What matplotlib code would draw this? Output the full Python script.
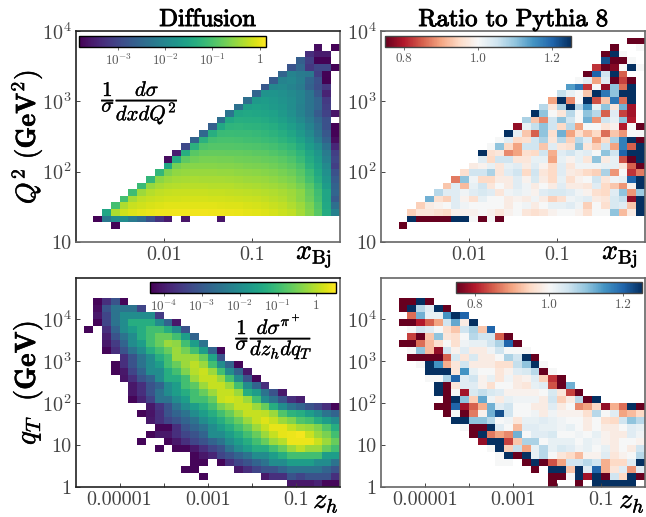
import numpy as np
import matplotlib
matplotlib.use('Agg')
import matplotlib.pyplot as plt
import matplotlib.patheffects as pe
from matplotlib.colors import LogNorm, Normalize

plt.rcParams['font.family'] = ['cmr10', 'DejaVu Serif']
plt.rcParams['mathtext.fontset'] = 'cm'
plt.rcParams['axes.formatter.use_mathtext'] = True
plt.rcParams['axes.unicode_minus'] = False

n = np.nan

# Q2 vs x cross section, log10, rows listed from the bottom bin up
xsec_q2 = [
    [n]*30,
    [n]*30,
    [n]*4 + [-3.8],
    [n]*2 + [-3.8,-2.25,-1.95,-1.9,-2.2,-2.45,-2.85,-3.25,-3.55,n,-3.6,n,n,n,-3.6],
    [n]*3 + [-1.5,-.35,-.15,-.08,-.03,0,.03,.04,.05,.05,.05,.05,.04,.03,.02,0,-.02,-.05,-.08,-.12,-.18,-.25,-.4,-.6,-.9,-1.4,-2.1],
    [n]*4 + [-1.05,-.35,-.2,-.15,-.1,-.07,-.05,-.04,-.04,-.04,-.05,-.05,-.06,-.07,-.08,-.1,-.12,-.15,-.2,-.25,-.33,-.45,-.65,-.95,-1.45,-2.4],
    [n]*5 + [-1.05,-.4,-.25,-.2,-.16,-.14,-.13,-.12,-.12,-.12,-.13,-.14,-.15,-.16,-.18,-.2,-.23,-.27,-.32,-.42,-.55,-.75,-1.05,-1.5,-2.7],
    [n]*6 + [-1.1,-.45,-.3,-.25,-.22,-.2,-.2,-.2,-.2,-.21,-.22,-.23,-.24,-.26,-.28,-.3,-.33,-.38,-.45,-.55,-.8,-1.1,-1.5,-2.55],
    [n]*7 + [-1.15,-.5,-.38,-.32,-.3,-.29,-.29,-.29,-.3,-.3,-.31,-.33,-.35,-.37,-.4,-.43,-.48,-.55,-.68,-.9,-1.2,-1.65,-2.6],
    [n]*8 + [-1.2,-.55,-.45,-.4,-.38,-.37,-.38,-.38,-.39,-.4,-.42,-.44,-.46,-.48,-.52,-.58,-.65,-.8,-1.05,-1.35,-1.75,-2.7],
    [n]*9 + [-1.2,-.65,-.52,-.5,-.48,-.48,-.48,-.5,-.5,-.52,-.54,-.56,-.58,-.62,-.68,-.75,-.9,-1.15,-1.45,-1.85,-2.85],
    [n]*10 + [-1.45,-.7,-.6,-.58,-.58,-.58,-.6,-.6,-.62,-.64,-.66,-.68,-.72,-.78,-.86,-1.0,-1.3,-1.55,-1.95,-3.1],
    [n]*10 + [-3.7,-1.4,-.85,-.72,-.68,-.68,-.7,-.7,-.72,-.74,-.76,-.78,-.82,-.88,-.98,-1.15,-1.4,-1.65,-2.1,-3.0],
    [n]*11 + [-3.5,-1.35,-.9,-.82,-.8,-.8,-.82,-.82,-.84,-.86,-.88,-.94,-1.0,-1.1,-1.25,-1.5,-1.75,-2.2,-3.1],
    [n]*12 + [-2.95,-1.3,-.98,-.92,-.92,-.92,-.94,-.96,-.98,-1.0,-1.05,-1.12,-1.22,-1.4,-1.65,-1.9,-2.35,-3.4],
    [n]*13 + [-2.6,-1.3,-1.05,-1.02,-1.02,-1.04,-1.06,-1.08,-1.12,-1.18,-1.26,-1.38,-1.55,-1.8,-2.15,-2.6,-3.7],
    [n]*14 + [-2.5,-1.35,-1.15,-1.12,-1.14,-1.15,-1.18,-1.22,-1.28,-1.36,-1.5,-1.7,-1.95,-2.3,-2.75,-3.8],
    [n]*15 + [-2.65,-1.45,-1.25,-1.24,-1.26,-1.28,-1.32,-1.38,-1.48,-1.62,-1.8,-2.05,-2.4,-2.85,-3.8],
    [n]*16 + [-2.4,-1.45,-1.35,-1.36,-1.38,-1.42,-1.5,-1.6,-1.75,-1.95,-2.2,-2.5,-2.85],
    [n]*17 + [-2.3,-1.5,-1.45,-1.48,-1.52,-1.58,-1.7,-1.85,-2.05,-2.3,-2.7,-3.05,-3.6],
    [n]*18 + [-2.35,-1.6,-1.55,-1.6,-1.68,-1.75,-1.9,-2.1,-2.3,-2.55,-3.1],
    [n]*19 + [-2.4,-1.7,-1.65,-1.72,-1.8,-1.9,-2.05,-2.3,-2.55,-3.15],
    [n]*20 + [-2.55,-1.8,-1.78,-1.85,-1.95,-2.05,-2.3,-2.75,-3.45],
    [n]*21 + [-2.75,-2.0,-1.95,-2.05,-2.2,-2.6,-2.9,-3.2],
    [n]*22 + [-2.7,-2.05,-2.0,-2.15,-2.55,-2.85,-3.85],
    [n]*23 + [-2.55,-2.05,-2.2,-2.25,-3.1,-3.8],
    [n]*24 + [-2.8,-2.5,-3.2,-3.0,-3.0,-3.8],
    [n]*25 + [-2.65,-3.1,-3.8,-3.8],
    [n]*26 + [-3.3,-3.55,-3.55],
    [n]*27 + [-3.7,n,-3.8],
    [n]*30,
    [n]*30,
]

# ratio for the Q2 panel
ratio_q2 = [
    [n]*30,
    [n]*30,
    [n]*2 + [.75],
    [n]*3 + [1.25,.75,.75,.75,.75,1.25,1.25,1.0,.75,1.0,.75],
    [n]*3 + [.94,.97,.97,.96,.95,.99,.99,.99,1.0,.99,.97,.99,1.0,.97,.96,.97,.99,1.0,1.0,.99,.96,1.0,1.0,1.1,.92,.98,1.25],
    [n]*4 + [.94,.98,.99,1.0,1.03,1.01,1.0,1.0,1.0,1.0,.98,1.0,1.01,.98,1.0,1.02,1.02,1.03,1.01,.94,1.0,.96,1.04,1.03,.93,1.25],
    [n]*5 + [1.12,.96,.94,1.03,.99,.96,1.02,1.0,1.0,.98,.99,.98,1.01,.98,.94,.96,1.01,1.02,1.03,.98,.97,1.04,1.06,.78,1.25],
    [n]*6 + [1.07,1.03,1.03,1.01,1.03,1.04,1.03,.97,1.01,1.02,1.01,.99,1.03,1.04,1.04,1.03,1.01,.99,.96,.95,1.03,1.1,.89,1.09],
    [n]*7 + [.93,1.03,.92,1.02,1.05,.97,1.0,.98,1.03,1.01,.98,1.0,.98,1.03,.98,.98,.97,1.03,.95,.93,.89,.99,1.25],
    [n]*8 + [.87,1.1,1.01,.95,.95,.98,.98,1.03,.99,1.04,.98,.95,1.02,.96,.99,1.0,1.05,.97,1.01,1.02,1.2,1.25],
    [n]*9 + [.96,1.05,1.05,1.08,.97,1.03,1.05,.95,1.05,.97,.95,1.03,.98,.97,.95,.94,1.08,.89,1.0,.82,.87],
    [n]*10 + [.98,.99,1.02,.97,1.02,1.03,.98,1.03,.99,.95,1.03,.97,1.01,1.01,1.01,1.02,1.02,.97,.85,.75],
    [n]*11 + [1.03,.95,1.05,1.05,.97,.97,1.02,1.02,.9,1.02,.99,1.02,.97,1.1,.98,1.02,.84,.75,1.25],
    [n]*11 + [1.25,.96,.97,.88,.9,.96,.95,1.05,.91,1.03,1.05,1.02,1.03,1.0,1.1,1.05,1.2,1.25,1.25],
    [n]*12 + [1.0,1.1,.95,.9,1.05,1.05,.93,1.03,.97,.96,1.1,.97,.94,1.05,.9,1.17,.85,1.25],
    [n]*13 + [1.0,1.03,.95,.96,1.05,1.08,.97,1.07,.94,1.07,1.03,.9,.95,1.08,1.17,1.25,.75],
    [n]*14 + [1.25,1.02,.93,.85,1.1,.96,1.12,.9,.96,.92,.95,.86,.93,.89,1.0,1.0],
    [n]*15 + [.78,1.02,1.06,1.1,1.05,.95,1.07,.9,1.0,1.0,.97,.99,.8,1.0,.75],
    [n]*16 + [1.08,.93,.88,1.05,1.1,1.05,1.0,1.12,.89,1.05,1.02,1.1,.8],
    [n]*17 + [1.25,1.1,1.0,.97,1.07,1.0,1.1,1.07,.85,1.03,.83,.79],
    [n]*18 + [1.07,.97,1.08,1.25,1.07,1.15,1.02,1.1,.97,1.12,.79],
    [n]*19 + [.9,1.25,.88,1.0,1.25,.84,.93,1.18,.86,1.25],
    [n]*20 + [1.06,1.02,1.0,.93,1.25,1.18,1.1,1.25,1.25],
    [n]*21 + [1.14,1.18,.82,1.0,.78,1.1,.86,1.25],
    [n]*22 + [1.0,1.03,.9,1.03,.75,.83,.75],
    [n]*23 + [.75,1.2,1.05,1.25,.85],
    [n]*24 + [.82,.75,.77,1.0,1.25,1.0],
    [n]*25 + [1.22,.75,.75,1.0],
    [n]*25 + [.75,1.25,1.0],
    [n]*26 + [.75,n,n,1.0],
    [n]*28 + [.75,.75],
    [n]*30,
]

# qT vs z cross section, log10
xsec_qt = [
    [n]*24 + [-4.05,-4.05,-4.05,-3.9,-4.3,-4.3],
    [n]*14 + [-4.3,n,n,n,n,n,n,-4.05,-3.7,-3.7,-3.1,-3.35,-3.1,-3.1,-3.1,-3.7],
    [n]*12 + [-4.3,-4.3,n,n,n,n,-4.05,-3.7,-3.35,-3.1,-3.1,-2.8,-2.5,-2.5,-2.5,-2.5,-2.8,-3.1],
    [n]*13 + [-4.3,-4.3,n,-4.3,-3.7,-3.35,-3.1,-2.8,-2.5,-2.0,-2.0,-1.65,-1.65,-1.65,-2.0,-2.0,-2.5],
    [n]*13 + [-4.3,-4.05,-3.85,-3.35,-3.1,-2.8,-2.5,-2.0,-2.0,-1.65,-1.3,-.95,-.95,-.95,-.95,-1.65,-1.65],
    [n]*9 + [-4.3,n,-4.3,-4.3,-4.05,-3.7,-3.35,-3.1,-2.5,-2.0,-1.65,-1.3,-1.3,-.95,-.6,-.2,.05,-.2,-.2,-.6,-.95],
    [n]*7 + [-4.3,n,n,-4.3,-4.05,-3.7,-3.35,-3.1,-2.8,-2.5,-2.0,-1.65,-1.3,-.95,-.6,-.2,.0,.4,.4,.4,.15,-.2,-.6],
    [n]*8 + [-4.3,-4.05,-4.05,-3.7,-3.35,-3.1,-2.8,-2.0,-2.0,-1.65,-1.3,-.95,-.6,-.2,.1,.35,.4,.45,.15,-.2,-.45,-.95],
    [n]*9 + [-4.3,-4.3,-3.7,-3.1,-2.8,-2.5,-2.0,-1.65,-1.3,-.95,-.6,-.2,.1,.35,.35,.1,-.1,-.2,-.4,-.8,-1.3],
    [n]*8 + [-4.05,-3.7,-3.35,-3.1,-2.8,-2.5,-2.0,-1.65,-1.3,-.95,-.6,-.2,.1,.3,.1,-.2,-.4,-.8,-.95,-1.3,-1.65,-2.0],
    [n]*7 + [-4.3,-4.1,-3.7,-3.1,-2.8,-2.5,-2.0,-1.65,-1.3,-.95,-.6,-.2,.1,.1,.05,-.2,-.8,-1.2,-1.3,-1.65,-2.0,-2.5,-2.8],
    [n]*8 + [-4.05,-3.6,-3.1,-2.5,-2.0,-1.65,-1.3,-.95,-.45,-.2,.1,.1,-.2,-.6,-1.3,-2.0,-2.5,-2.8,-3.1,-3.35,-3.7,-4.3],
    [n]*6 + [-4.3,-3.9,-3.4,-2.5,-2.5,-2.0,-1.65,-.95,-.95,-.6,.1,.2,.1,-.2,-.95,-2.0,-2.5,-3.1,-3.7,-3.95],
    [n]*6 + [-4.05,-3.7,-3.1,-2.5,-2.0,-1.65,-1.3,-.95,-.6,-.2,.1,.1,-.2,-1.3,-1.65,-2.5,-3.1,-4.05],
    [n]*6 + [-4.05,-3.7,-3.1,-2.8,-2.0,-1.65,-.95,-.7,-.2,.1,.1,-.2,-.95,-2.0,-2.8,-3.7],
    [n]*5 + [-4.1,-3.7,-3.1,-2.8,-2.0,-1.3,-1.3,-.95,-.2,.1,.1,-.2,-.95,-2.0,-3.1,-4.3],
    [n]*4 + [-4.3,-4.05,-3.35,-2.8,-2.0,-2.0,-1.3,-.95,-.4,.0,.15,-.2,-.95,-2.0,-2.8,-4.05],
    [n]*4 + [-4.3,-3.7,-3.1,-2.5,-2.0,-1.65,-.95,-.6,-.2,.05,-.2,-.95,-2.0,-2.8,-4.3],
    [n]*5 + [-3.7,-3.1,-2.5,-2.0,-1.3,-.95,-.2,-.2,-.2,-.6,-1.5,-3.1],
    [n]*3 + [-4.3,-3.7,-3.1,-2.5,-2.0,-1.3,-.95,-.6,-.2,-.5,-.95,-1.65,-2.8,-4.3],
    [n]*3 + [-4.05,-3.5,-2.8,-2.0,-1.65,-.95,-.6,-.2,-.3,-.95,-1.65,-2.5],
    [n]*3 + [-3.95,-3.1,-2.5,-2.0,-1.3,-.95,-.6,-.6,-.95,-1.65,-2.8],
    [n] + [-4.3,n,-3.7,-2.8,-2.0,-1.65,-1.3,-.95,-.95,-1.3,-2.0,-3.1],
    [n]*2 + [-4.3,-3.35,-2.5,-2.0,-1.3,-1.3,-1.3,-2.0,-2.8,-4.05],
    [n]*2 + [-4.05,-3.35,-2.5,-2.0,-2.0,-2.0,-2.0,-3.5],
    [n]*2 + [-4.2,-3.1,-2.5,-2.5,-2.5,-3.35],
    [n]*2 + [-4.3,-3.7,-3.1,-4.3],
    [n]*30,
    [n]*30,
    [n]*30,
]

# ratio for the qT panel
ratio_qt = [
    [n]*19 + [.75,n,n,.75,n,1.25,1.25,1.25,1.25,1.25],
    [n]*19 + [.75,.75,1.0,1.25,.79,1.25,.75,1.05,.95,1.25,.75],
    [n]*17 + [.75,n,1.25,1.25,.93,1.25,1.03,1.2,.91,.97,1.03,.89,1.03],
    [n]*13 + [1.0,1.0,n,.75,1.25,.75,.84,.9,1.05,1.05,1.07,1.05,.91,.95,.95,1.03,1.25],
    [n]*13 + [1.0,1.25,.75,1.25,1.02,1.07,1.0,.97,.95,.92,.99,.99,1.03,.97,.99,1.0,1.07],
    [n]*12 + [1.0,1.25,.94,1.06,.9,1.02,1.07,1.02,1.04,1.03,1.01,1.02,1.0,1.02,.98,1.0,.98,1.05],
    [n]*11 + [.78,1.25,1.25,.83,.93,1.08,1.08,1.0,1.02,1.02,1.02,1.0,1.02,1.01,.99,.98,1.0,1.0,.99],
    [n]*10 + [.75,1.25,.87,.9,.88,1.12,1.0,1.03,1.03,1.04,1.0,1.0,1.01,1.0,1.02,.99,.98,.98,1.03,1.01],
    [n]*9 + [1.0,.75,.75,1.25,1.03,1.0,.92,1.03,1.03,1.02,1.02,1.01,1.02,1.0,.98,1.0,.98,.98,1.0,1.03,1.02],
    [n]*8 + [1.25,1.25,1.1,1.1,1.07,1.0,1.01,.97,1.02,1.02,1.03,1.02,1.01,1.0,1.0,.98,1.0,.96,.95,1.05,1.1,1.07],
    [n]*7 + [.75,1.0,.75,.87,.99,1.12,1.22,1.05,1.0,1.0,1.01,.98,1.01,.99,.99,.99,.96,1.07,1.0,1.03,.9,.92,.95],
    [n]*6 + [.75,.75,1.2,.79,.85,.91,1.12,1.03,1.05,1.0,1.0,.98,.98,1.03,.98,1.0,.88,.9,.95,.78,.91,.86,1.25,.75],
    [n]*7 + [.75,1.25,1.1,.94,1.13,1.01,.98,1.02,1.01,1.01,1.01,.98,1.05,.94,.98,1.07,.75,1.25],
    [n]*6 + [1.25,.75,1.0,.79,1.04,1.06,1.04,1.03,.99,.99,.99,.99,1.0,1.04,.97,.83,.75],
    [n]*6 + [1.25,.75,.97,1.03,1.03,.99,.96,1.0,1.0,.98,.97,1.02,1.03,.84,.75,1.12],
    [n]*5 + [1.0,1.0,1.08,1.2,1.03,1.05,.99,1.02,.97,1.01,.98,.99,1.03,.94,.82,.75],
    [n]*5 + [1.25,1.25,1.25,.97,1.15,1.02,1.0,1.0,.97,.99,1.03,1.04,1.07,.75,1.0],
    [n]*4 + [1.0,1.25,1.15,.91,.97,1.05,.98,.98,.98,.96,.96,1.06,1.1,1.25,1.0],
    [n]*3 + [.75,.75,.75,.75,.85,1.04,.97,1.04,.98,.98,1.0,1.08,1.05,1.25,.75],
    [n]*3 + [1.0,1.1,.92,.78,1.05,.99,1.03,.98,.98,1.01,1.05,1.0,1.0,1.0],
    [n]*2 + [.75,.75,.86,.92,.96,1.0,.96,1.01,1.02,1.02,1.05,1.08,1.2,.75],
    [n]*3 + [.83,.75,.93,1.1,.97,.96,1.0,1.07,1.05,1.05,.85,.75],
    [n]*3 + [1.0,1.05,1.03,1.0,.96,.93,1.05,1.08,.93,1.2],
    [n]*2 + [.75,.75,.8,.85,.9,1.05,1.13,.98,1.25],
    [n]*3 + [.86,1.12,1.02,1.02,1.15,1.25,1.2],
    [n]*2 + [.75,1.25,1.07,1.03,1.25,.75],
    [n]*2 + [.75,.75,1.25,.75],
    [n]*30,
    [n]*30,
    [n]*30,
]

def grid(rows):
    # pad the rows to 30 columns
    return np.array([list(r) + [n]*(30 - len(r)) for r in rows], dtype=float)

W, H = 646.0, 517.0

def px_axes(left, top, right, bottom):
    return fig.add_axes([left/W, 1 - bottom/H, (right-left)/W, (bottom-top)/H])

def cbar(mesh, left, top, right, bottom, ticks, labels, grey):
    cax = px_axes(left, top, right, bottom)
    cb = fig.colorbar(mesh, cax=cax, orientation='horizontal')
    cb.set_ticks(ticks)
    cb.set_ticklabels(labels)
    cb.minorticks_off()
    cax.tick_params(axis='x', length=2, width=0.6, labelsize=9.5, pad=2, colors='#555555')
    cb.outline.set_edgecolor(grey)
    cb.outline.set_linewidth(1.0)

def style(ax, xt, xl, yt, yl, dark):
    ax.set_xscale('log')
    ax.set_yscale('log')
    ax.set_xticks(xt, xl)
    ax.set_yticks(yt, yl)
    ax.minorticks_off()
    ax.tick_params(axis='both', direction='in', length=3, width=0.7, labelsize=14.5, color='#444444', labelcolor='#444444', pad=3)
    for k, s in ax.spines.items():
        s.set_color('#666666')
        s.set_linewidth(1.2)
        if k in dark:
            s.set_color('#222222')

fig = plt.figure(figsize=(W/100, H/100), dpi=100)

xq = np.logspace(-3, 0, 31)
yq = np.logspace(1, 4, 33)
xz = np.logspace(-6, 0, 31)
yz = np.logspace(0, 5, 31)

ax1 = px_axes(75.5, 31, 340, 242)
ax2 = px_axes(381, 31, 645, 242)
ax3 = px_axes(75.5, 277.5, 340, 487.3)
ax4 = px_axes(381, 277.5, 645, 487.3)

m1 = ax1.pcolormesh(xq, yq, 10.0**grid(xsec_q2), cmap='viridis', norm=LogNorm(10**-3.83, 10**0.135))
m2 = ax2.pcolormesh(xq, yq, grid(ratio_q2), cmap='RdBu', norm=Normalize(0.75, 1.25))
m3 = ax3.pcolormesh(xz, yz, 10.0**grid(xsec_qt), cmap='viridis', norm=LogNorm(10**-4.36, 10**0.54))
m4 = ax4.pcolormesh(xz, yz, grid(ratio_qt), cmap='RdBu', norm=Normalize(0.75, 1.25))

xt_q = [0.01, 0.1]
xl_q = ['0.01', '0.1']
xt_z = [1e-5, 1e-4, 1e-3, 1e-2, 1e-1]
xl_z = ['0.00001', '', '0.001', '', '0.1']
yt_q = [10, 100, 1000, 10000]
yl_q = ['10', '$10^2$', '$10^3$', '$10^4$']
yt_z = [1, 10, 100, 1000, 10000]
yl_z = ['1', '10', '$10^2$', '$10^3$', '$10^4$']

style(ax1, xt_q, xl_q, yt_q, yl_q, ('left', 'top'))
style(ax2, xt_q, xl_q, yt_q, yl_q, ())
style(ax3, xt_z, xl_z, yt_z, yl_z, ('left', 'top', 'bottom'))
style(ax4, xt_z, xl_z, yt_z, yl_z, ())

cbar(m1, 79, 36, 266, 47, [1e-3, 1e-2, 1e-1, 1], ['$10^{-3}$', '$10^{-2}$', '$10^{-1}$', '$1$'], 'black')
cbar(m2, 385, 36, 571, 47, [0.8, 1.0, 1.2], ['0.8', '1.0', '1.2'], '#444444')
cbar(m3, 150, 282, 336, 293, [1e-4, 1e-3, 1e-2, 1e-1, 1], ['$10^{-4}$', '$10^{-3}$', '$10^{-2}$', '$10^{-1}$', '$1$'], 'black')
cbar(m4, 456, 282, 642, 293, [0.8, 1.0, 1.2], ['0.8', '1.0', '1.2'], '#444444')

bold = [pe.withStroke(linewidth=0.35, foreground='black')]
semi = [pe.withStroke(linewidth=0.25, foreground='black')]
title_fx = [pe.withStroke(linewidth=0.7, foreground='black')]

def put(x, y, s, size, **kw):
    # x, y in picture pixels, y is the text baseline
    return fig.text(x/W, 1 - y/H, s, fontsize=size, ha='center', va='baseline', rotation_mode='anchor', **kw)

put(207.5, 26, 'Diffusion', 17.7, family='cmr10', path_effects=title_fx)
put(513, 26, 'Ratio to Pythia 8', 17.7, family='cmr10', path_effects=title_fx)

put(35, 137, r'$Q^2\ \mathbf{(GeV^2)}$', 20, rotation=90, path_effects=bold)
put(35, 383, r'$q_T\ \ \mathbf{(GeV)}$', 21, rotation=90, path_effects=bold)

for x in (314, 620):
    put(x, 259, r'$x_{\mathrm{Bj}}$', 20, path_effects=bold)
for x in (326, 632):
    put(x, 508, r'$z_h$', 20, path_effects=bold)

put(140, 104, r'$\dfrac{1}{\sigma}\dfrac{d\sigma}{dxdQ^2}$', 15, path_effects=semi)
put(274, 342, r'$\dfrac{1}{\sigma}\dfrac{d\sigma^{\pi^+}}{dz_hdq_T}$', 15, path_effects=semi)

fig.savefig('out.png', dpi=100)
